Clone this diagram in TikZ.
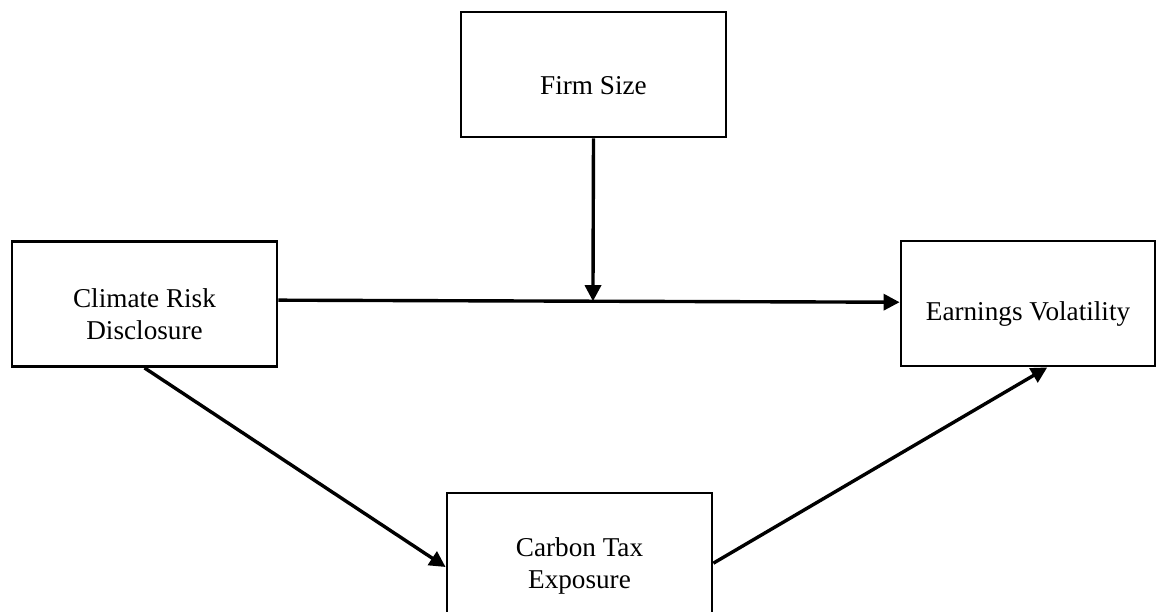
\documentclass[tikz,border=0pt]{standalone}
\usepackage{fontspec}
\setmainfont{Liberation Serif}
\usetikzlibrary{arrows.meta, calc}

\begin{document}
\begin{tikzpicture}[
  x=0.5pt, y=-0.5pt,
  font=\fontsize{13.6pt}{16pt}\selectfont,
  var/.style ={rectangle, draw=black, line width=1.4pt, fill=white,
               minimum width=132.5pt, minimum height=62.5pt, align=center, inner sep=2pt,
               execute at begin node={\rule{0pt}{#1}}},
  var/.default=20pt,
  arr/.style ={-{Triangle[length=8pt, width=8pt]}, draw=black, line width=1.7pt},
]
\useasboundingbox (0,0) rectangle (1157,611);

% --- boxes ---
\node[var] (fs)  at (593.5, 74.5) {Firm Size};
\node[var=35.5pt] (crd) at (144.5, 304)  {Climate Risk\\Disclosure};
\node[var, minimum width=127pt] (ev) at (1028, 303.5) {Earnings Volatility};
\node[var=35.5pt] (cte) at (579.5, 555.5) {Carbon Tax\\Exposure};

% --- connector ends ---
\coordinate (crdout) at ($(crd.north east)!0.47!(crd.south east)$);
\coordinate (evin)   at ($(ev.north west)!0.49!(ev.south west)$);
\coordinate (fsin)   at ($(crdout)!(fs.south)!(evin)$);
\coordinate (ctein)  at ($(cte.north west)!0.59!(cte.south west)$);
\coordinate (cteout) at ($(cte.north east)!0.56!(cte.south east)$);
\coordinate (evbot)  at ($(ev.south west)!0.575!(ev.south east)$);

% --- arrows ---
\draw[arr] (crdout) -- (evin);
\draw[arr] (fs.south) -- (fsin);
\draw[arr] (crd.south) -- (ctein);
\draw[arr] (cteout) -- (evbot);
\end{tikzpicture}
\end{document}
